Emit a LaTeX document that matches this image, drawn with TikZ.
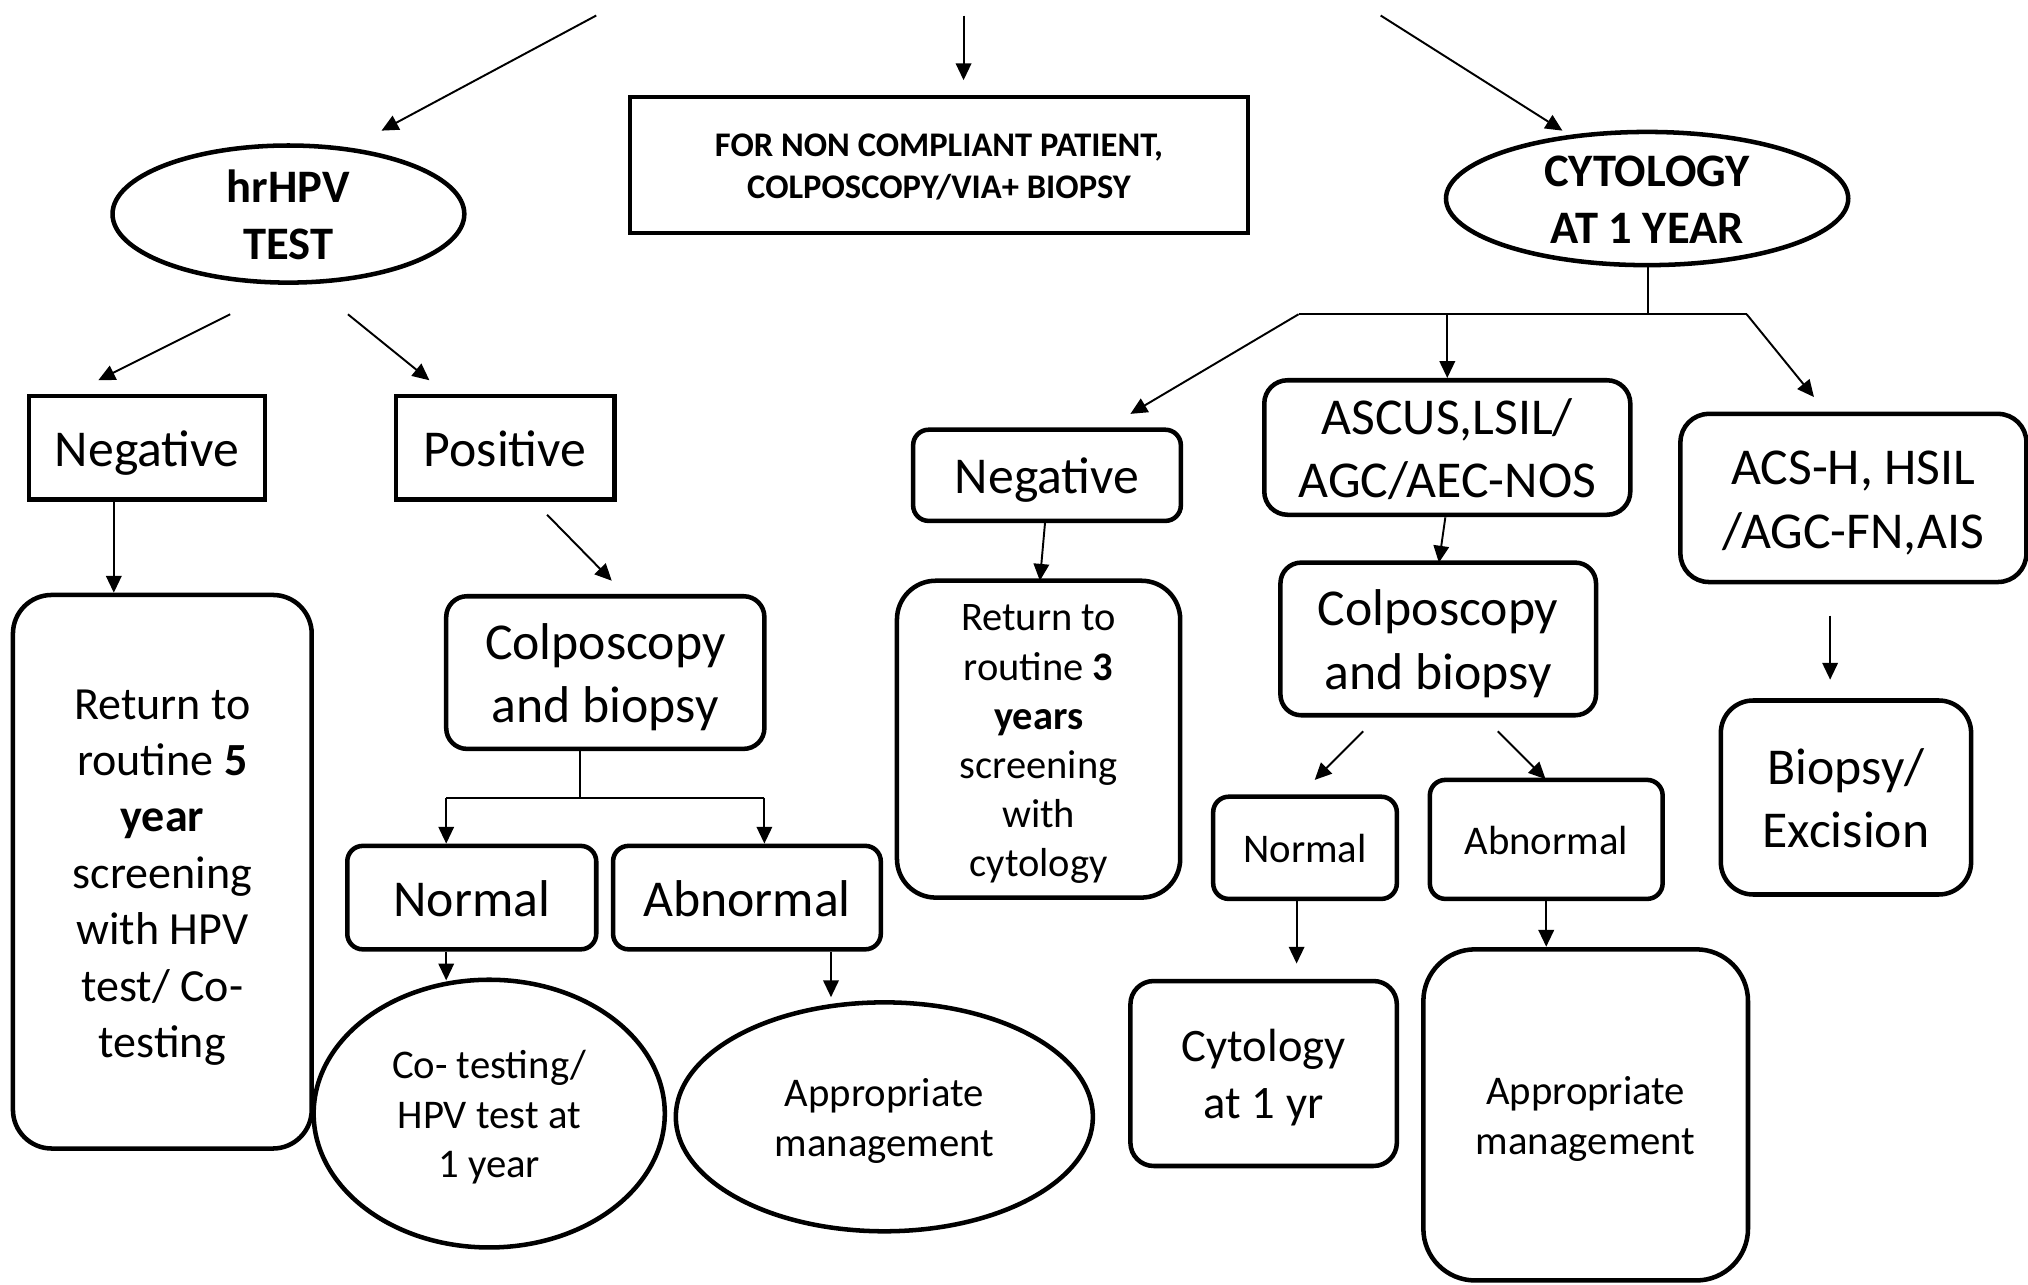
\documentclass[tikz,border=0pt]{standalone}
\usepackage{fontspec}
\setmainfont{Carlito}
\usetikzlibrary{arrows.meta,shapes.geometric}
\newcommand\fsBig{\fontsize{40}{49}\selectfont}
\newcommand\fsHead{\fontsize{36}{44}\selectfont}
\newcommand\fsTop{\fontsize{26.7}{32.5}\selectfont}
\newcommand\fsRetA{\fontsize{35.6}{43.6}\selectfont}
\newcommand\fsRetB{\fontsize{31.3}{38}\selectfont}
\newcommand\fsSmall{\fontsize{31.5}{38.4}\selectfont}
% line-box struts (top of first line, bottom of last line)
\newcommand\sT{\rule{0pt}{0.97em}}
\newcommand\sB{\rule[-0.25em]{0pt}{0.25em}}
\tikzset{
  sq/.style={draw, line width=3.5pt, inner sep=0pt, align=center},
  rb/.style={sq, rounded corners=#1},
  ell/.style={draw, ellipse, line width=3.5pt, inner sep=0pt, align=center},
  arr/.style={line width=1.5pt, -{Triangle[length=13pt,width=12pt]}},
  ln/.style={line width=1.5pt},
}
\begin{document}
\begin{tikzpicture}[x=1pt,y=-1pt]
\clip (0,0) rectangle (1568,993);
\fill[white] (0,0) rectangle (1568,993);

% ---------- top row ----------
\node[sq, minimum width=478pt, minimum height=105pt, font=\bfseries\fsTop] (noncomp) at (726,127.5)
  {\sT FOR NON COMPLIANT PATIENT,\\COLPOSCOPY/VIA+ BIOPSY\sB};
\node[ell, inner ysep=-12pt, minimum width=272pt, minimum height=106pt, font=\bfseries\fsHead] (hpv) at (223,165.5) {\sT hrHPV\\TEST\sB};
\node[ell, inner ysep=-12pt, minimum width=311pt, minimum height=103pt, font=\bfseries\fsHead] (cyto) at (1273.5,153.5) {\sT CYTOLOGY\\AT 1 YEAR\sB};

\coordinate (t1) at (461,12);   \coordinate (t1e) at (295,101);
\coordinate (t2) at (745,12);   \coordinate (t2e) at (745,62);
\coordinate (t3) at (1067.5,12);\coordinate (t3e) at (1208,101);
\draw[arr] (t1) -- (t1e);
\draw[arr] (t2) -- (t2e);
\draw[arr] (t3) -- (t3e);

% ---------- left branch ----------
\node[sq, minimum width=182.5pt, minimum height=80pt, font=\fsBig] (negL) at (113.75,346) {\sT Negative\sB};
\node[sq, minimum width=169pt, minimum height=80pt, font=\fsBig] (posL) at (390.5,346) {\sT Positive\sB};
\coordinate (h1) at (178,243); \coordinate (h1e) at (76,294);
\coordinate (h2) at (269,243); \coordinate (h2e) at (332,294);
\draw[arr] (h1) -- (h1e);
\draw[arr] (h2) -- (h2e);

\node[rb=30pt, minimum width=231pt, minimum height=428pt, font=\fsRetA] (ret5) at (125.5,674)
  {\sT Return to\\routine \textbf{5}\\\textbf{year}\\screening\\with HPV\\test/ Co-\\testing\sB};
\coordinate (nL) at (88,0);
\draw[arr] (negL.south -| nL) -- (ret5.north -| nL);

\node[rb=16pt, minimum width=246pt, minimum height=118pt, font=\fsBig] (colpL) at (468,520) {\sT Colposcopy\\and biopsy\sB};
\coordinate (p1) at (423,398); \coordinate (p1e) at (473,449);
\draw[arr] (p1) -- (p1e);

\node[rb=12pt, minimum width=192.5pt, minimum height=80pt, font=\fsBig] (normL) at (364.75,694) {\sT Normal\sB};
\node[rb=12pt, minimum width=207pt, minimum height=80pt, font=\fsBig] (abnL) at (577.5,694) {\sT Abnormal\sB};
\coordinate (bl) at (448.5,616.7);
\coordinate (blL) at (345,616.7);
\coordinate (blR) at (591,616.7);
\draw[ln] (colpL.south -| bl) -- (bl);
\draw[ln] (blL) -- (blR);
\draw[arr] (blL) -- (normL.north -| blL);
\draw[arr] (blR) -- (abnL.north -| blR);

\node[ell, minimum width=271.5pt, minimum height=207pt, font=\fsSmall] (cotest) at (378.25,861)
  {\sT Co- testing/\\HPV test at\\1 year\sB};
\node[ell, minimum width=322.5pt, minimum height=177pt, font=\fsSmall] (amL) at (683.75,863.5)
  {\sT Appropriate\\management\sB};
\coordinate (nLe) at (345,758);
\draw[arr] (normL.south -| nLe) -- (nLe);
\coordinate (aL) at (642.5,771);
\draw[arr] (abnL.south -| aL) -- (aL);

% ---------- right branch ----------
\coordinate (cb) at (1274,243);
\coordinate (cbL) at (1004,243);
\coordinate (cbM) at (1119,243);
\coordinate (cbR) at (1350.5,243);
\draw[ln] (cyto.south -| cb) -- (cb);
\draw[ln] (cbL) -- (cbR);

\node[rb=12pt, minimum width=207pt, minimum height=70.5pt, font=\fsBig] (negR) at (809.5,367.5) {\sT Negative\sB};
\node[rb=18pt, minimum width=283pt, minimum height=104pt, font=\fsBig] (ascus) at (1119,346) {\sT ASCUS,LSIL/\\AGC/AEC-NOS\sB};
\node[rb=22pt, minimum width=267.5pt, minimum height=130pt, font=\fsBig] (acs) at (1433,385) {\sT ACS-H, HSIL\\/AGC-FN,AIS\sB};
\coordinate (cbLe) at (874,320);
\coordinate (cbRe) at (1402.5,307);
\draw[arr] (cbL) -- (cbLe);
\draw[arr] (cbM) -- (ascus.north -| cbM);
\draw[arr] (cbR) -- (cbRe);

\node[rb=30pt, minimum width=219pt, minimum height=245pt, font=\fsRetB] (ret3) at (803,571.5)
  {\sT Return to\\routine \textbf{3}\\\textbf{years}\\screening\\with\\cytology\sB};
\coordinate (n1) at (808,404); \coordinate (n1e) at (804,449);
\draw[arr] (n1) -- (n1e);

\node[rb=16pt, minimum width=244pt, minimum height=118pt, font=\fsBig] (colpR) at (1112,494) {\sT Colposcopy\\and biopsy\sB};
\coordinate (a1) at (1117.5,400); \coordinate (a1e) at (1112.5,435);
\draw[arr] (a1) -- (a1e);

\node[rb=12pt, minimum width=142pt, minimum height=79pt, font=\fsSmall] (normR) at (1009,655.5) {\sT Normal\sB};
\node[rb=12pt, minimum width=180pt, minimum height=92pt, font=\fsSmall] (abnR) at (1195.5,649) {\sT Abnormal\sB};
\coordinate (c1) at (1054,565.4); \coordinate (c1e) at (1016.5,603);
\coordinate (c2) at (1158,565.4); \coordinate (c2e) at (1195,602.4);
\draw[arr] (c1) -- (c1e);
\draw[arr] (c2) -- (c2e);

\node[rb=18pt, minimum width=206pt, minimum height=143pt, font=\fsHead] (cyto1) at (977,830) {\sT Cytology\\at 1 yr\sB};
\node[rb=40pt, minimum width=251pt, minimum height=256pt, font=\fsSmall] (amR) at (1226,862) {\sT Appropriate\\management\sB};
\coordinate (d1e) at (1002.5,745);
\coordinate (d2e) at (1195.5,732);
\draw[arr] (normR.south -| d1e) -- (d1e);
\draw[arr] (abnR.south -| d2e) -- (d2e);

\node[rb=25pt, minimum width=193.5pt, minimum height=150pt, font=\fsBig] (biop) at (1427.25,616.6) {\sT Biopsy/\\Excision\sB};
\coordinate (e1) at (1415,476); \coordinate (e1e) at (1415,525.5);
\draw[arr] (e1) -- (e1e);
\end{tikzpicture}
\end{document}
